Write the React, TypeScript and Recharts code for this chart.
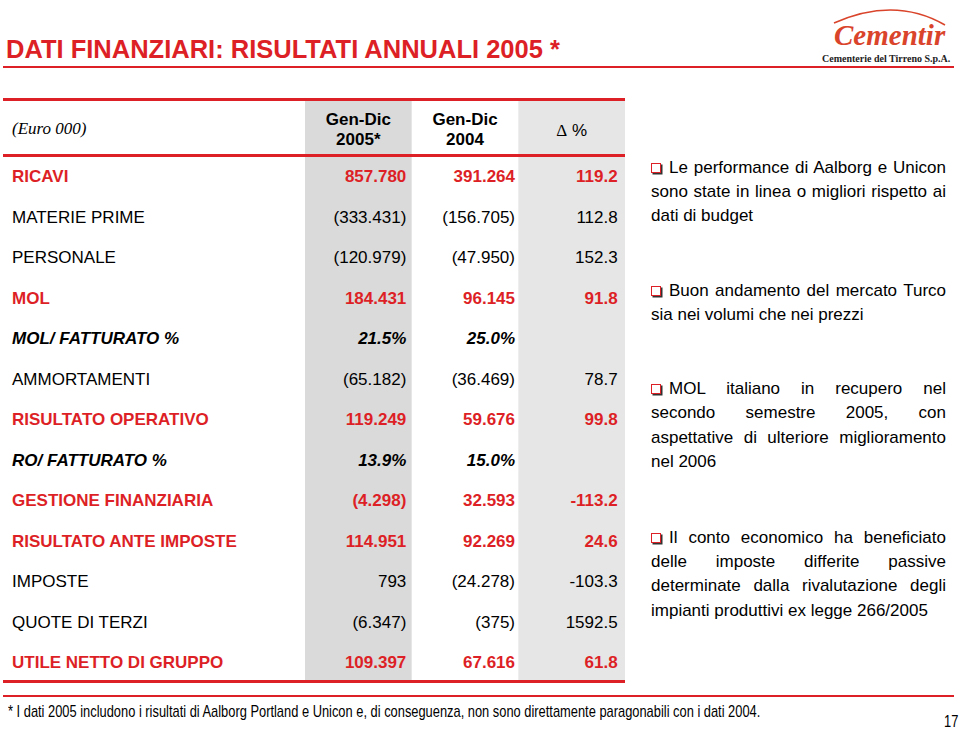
import React from 'react';
import { ScatterChart, Scatter, XAxis, YAxis, ReferenceArea } from 'recharts';

const RED = '#DD1F26';
const SANS = '"Liberation Sans", Arial, sans-serif';
const SERIF = '"Liberation Serif", "Times New Roman", serif';

const rowLabels = [
  'RICAVI',
  'MATERIE PRIME',
  'PERSONALE',
  'MOL',
  'MOL/ FATTURATO %',
  'AMMORTAMENTI',
  'RISULTATO OPERATIVO',
  'RO/ FATTURATO %',
  'GESTIONE FINANZIARIA',
  'RISULTATO ANTE IMPOSTE',
  'IMPOSTE',
  'QUOTE DI TERZI',
  'UTILE NETTO DI GRUPPO',
];
const rowKinds = ['total', 'item', 'item', 'total', 'ratio', 'item', 'total', 'ratio', 'total', 'total', 'item', 'item', 'total'];
const values2005 = [857780, -333431, -120979, 184431, 21.5, -65182, 119249, 13.9, -4298, 114951, 793, -6347, 109397];
const values2004 = [391264, -156705, -47950, 96145, 25.0, -36469, 59676, 15.0, 32593, 92269, -24278, -375, 67616];
const deltaPct: (number | null)[] = [119.2, 112.8, 152.3, 91.8, null, 78.7, 99.8, null, -113.2, 24.6, -103.3, 1592.5, 61.8];

const columnHeaders = [
  ['Gen-Dic', '2005*'],
  ['Gen-Dic', '2004'],
  ['Δ %'],
];
const columnFills = ['#DADADA', 'none', '#E6E6E6'];

const bullets = [
  'Le performance di Aalborg e Unicon sono state in linea o migliori rispetto ai dati di budget',
  'Buon andamento del mercato Turco sia nei volumi che nei prezzi',
  'MOL italiano in recupero nel secondo semestre 2005, con aspettative di ulteriore miglioramento nel 2006',
  'Il conto economico ha beneficiato delle imposte differite passive determinate dalla rivalutazione degli impianti produttivi ex legge 266/2005',
];
const bulletTops = [155.5, 279, 377, 525.5];

const footnote =
  '* I dati 2005 includono i risultati di Aalborg Portland e Unicon e, di conseguenza, non sono direttamente paragonabili con i dati 2004.';

const PAD_TOP = 75.25;
const PAD_BOTTOM = 20.25;

function fmtAmount(v: number, kind: string): string {
  if (kind === 'ratio') return v.toFixed(1) + '%';
  const s = Math.abs(v).toString().replace(/\B(?=(\d{3})+(?!\d))/g, '.');
  return v < 0 ? `(${s})` : s;
}

function rowStyle(kind: string) {
  if (kind === 'total') return { fill: RED, fontWeight: 700, fontStyle: 'normal' };
  if (kind === 'ratio') return { fill: '#000', fontWeight: 700, fontStyle: 'italic' };
  return { fill: '#000', fontWeight: 400, fontStyle: 'normal' };
}

const col1 = rowLabels.map((label, i) => ({ label, col: 1, kind: rowKinds[i], text: fmtAmount(values2005[i], rowKinds[i]) }));
const col2 = rowLabels.map((label, i) => ({ label, col: 2, kind: rowKinds[i], text: fmtAmount(values2004[i], rowKinds[i]) }));
const col3 = rowLabels
  .map((label, i) => ({ label, col: 3, kind: rowKinds[i], v: deltaPct[i] }))
  .filter((d) => d.v !== null)
  .map((d) => ({ ...d, text: (d.v as number).toFixed(1) }));

const ValueShape = (props: any) => {
  const { cx, cy, payload } = props;
  const st = rowStyle(payload.kind);
  const dx = payload.col === 2 ? 50 : payload.col === 3 ? 46 : 48;
  return (
    <text x={cx + dx} y={cy + 7} textAnchor="end" fontSize={17} fontFamily={SANS} {...st}>
      {payload.text}
    </text>
  );
};

const RowTick = (props: any) => {
  const { y, payload } = props;
  const i = rowLabels.indexOf(payload.value);
  const st = rowStyle(rowKinds[i]);
  return (
    <text x={12} y={y + 7} textAnchor="start" fontSize={17} fontFamily={SANS} {...st}>
      {payload.value}
    </text>
  );
};

const bandShape = (fill: string) => (p: any) => {
  if (fill === 'none') return <g />;
  return <rect x={p.x} y={p.y - PAD_TOP} width={p.width} height={p.height + PAD_TOP + PAD_BOTTOM} fill={fill} />;
};

const headerLabel = (lines: string[]) => (props: any) => {
  const vb = props.viewBox;
  if (!vb) return null;
  const cx = vb.x + vb.width / 2;
  const top = vb.y - PAD_TOP;
  if (lines.length === 2) {
    return (
      <g>
        <text x={cx} y={top + 24.5} textAnchor="middle" fontSize={17} fontWeight={700} fontFamily={SANS} fill="#000">
          {lines[0]}
        </text>
        <text x={cx} y={top + 44.5} textAnchor="middle" fontSize={17} fontWeight={700} fontFamily={SANS} fill="#000">
          {lines[1]}
        </text>
      </g>
    );
  }
  return (
    <text x={cx} y={top + 36} textAnchor="middle" fontSize={17} fontFamily={SANS} fill="#000">
      <tspan fontFamily={SERIF}>Δ</tspan>
      <tspan> %</tspan>
    </text>
  );
};

const Box = () => (
  <span
    style={{
      display: 'inline-block',
      width: 8,
      height: 8,
      border: `1.5px solid ${RED}`,
      boxShadow: '1.5px 1.5px 0 #333',
      marginRight: 8,
      verticalAlign: '0px',
    }}
  />
);

const hline = (top: number, left: number, width: number, height: number): React.CSSProperties => ({
  position: 'absolute',
  top,
  left,
  width,
  height,
  background: RED,
});

export default function App() {
  return (
    <div
      style={{
        position: 'absolute',
        left: 0,
        top: 0,
        width: 960,
        height: 730,
        background: '#fff',
        fontFamily: SANS,
        color: '#000',
        overflow: 'hidden',
      }}
    >
      <div
        style={{
          position: 'absolute',
          left: 6,
          top: 34,
          fontSize: 25.5,
          lineHeight: '30px',
          fontWeight: 700,
          color: RED,
          whiteSpace: 'nowrap',
        }}
      >
        DATI FINANZIARI: RISULTATI ANNUALI 2005 *
      </div>

      <svg style={{ position: 'absolute', left: 812, top: 0 }} width={146} height={70}>
        <path d="M 22 23 Q 83 -4 133 25" stroke="#D9442B" strokeWidth={1.6} fill="none" />
        <text x={22} y={45} fontFamily={SERIF} fontStyle="italic" fontWeight={700} fontSize={29} fill="#D9442B">
          Cementir
        </text>
        <text x={10} y={62} fontFamily={SERIF} fontWeight={700} fontSize={10} fill="#222">
          Cementerie del Tirreno S.p.A.
        </text>
      </svg>

      <div style={hline(66, 3, 951, 2)} />

      <div style={{ position: 'absolute', left: 0, top: 0 }}>
        <ScatterChart width={630} height={690} margin={{ top: 100, right: 5, bottom: 8.5, left: 3 }}>
          <XAxis type="number" dataKey="col" domain={[0.5, 3.5]} allowDataOverflow hide />
          <YAxis
            type="category"
            dataKey="label"
            allowDuplicatedCategory={false}
            scale="point"
            reversed
            width={302}
            padding={{ top: PAD_TOP, bottom: PAD_BOTTOM }}
            axisLine={false}
            tickLine={false}
            interval={0}
            tick={<RowTick />}
          />
          {columnHeaders.map((lines, k) => (
            <ReferenceArea
              key={k}
              x1={k + 0.5}
              x2={k + 1.5}
              fill={columnFills[k]}
              fillOpacity={1}
              stroke="none"
              ifOverflow="visible"
              shape={bandShape(columnFills[k])}
              label={headerLabel(lines)}
            />
          ))}
          <Scatter data={col1} shape={<ValueShape />} isAnimationActive={false} />
          <Scatter data={col2} shape={<ValueShape />} isAnimationActive={false} />
          <Scatter data={col3} shape={<ValueShape />} isAnimationActive={false} />
        </ScatterChart>
      </div>

      <div
        style={{
          position: 'absolute',
          left: 12,
          top: 118.5,
          fontFamily: SERIF,
          fontStyle: 'italic',
          fontSize: 17,
          lineHeight: '20px',
        }}
      >
        (Euro 000)
      </div>

      <div style={hline(98, 3, 622, 3)} />
      <div style={hline(153.5, 3, 622, 3)} />
      <div style={hline(679.5, 3, 622, 3)} />

      {bullets.map((b, i) => (
        <div
          key={i}
          style={{
            position: 'absolute',
            left: 651,
            top: bulletTops[i],
            width: 295,
            fontSize: 17,
            lineHeight: '24.4px',
            textAlign: 'justify',
          }}
        >
          <Box />
          {b}
        </div>
      ))}

      <div style={hline(695, 3, 951, 2)} />

      <div
        style={{
          position: 'absolute',
          left: 8,
          top: 703,
          fontSize: 15.7,
          lineHeight: '18px',
          whiteSpace: 'nowrap',
          transform: 'scaleX(0.82)',
          transformOrigin: '0 0',
        }}
      >
        {footnote}
      </div>
      <div
        style={{
          position: 'absolute',
          left: 944,
          top: 713,
          fontSize: 15.7,
          lineHeight: '18px',
          transform: 'scaleX(0.82)',
          transformOrigin: '0 0',
        }}
      >
        17
      </div>
    </div>
  );
}
